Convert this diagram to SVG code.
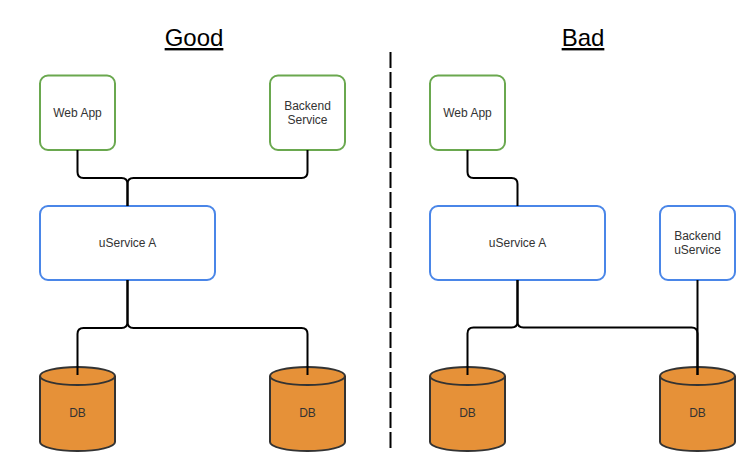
<svg xmlns="http://www.w3.org/2000/svg" width="755" height="473" viewBox="0 0 755 473">
<style>
.title{font-family:"Liberation Sans",Arial,sans-serif;font-size:24px;fill:#000;text-anchor:middle;text-decoration:underline}
.lbl{font-family:"Liberation Sans",Arial,sans-serif;font-size:12px;fill:#333;text-anchor:middle}
.green{fill:#fff;stroke:#6aa84f;stroke-width:2}
.blue{fill:#fff;stroke:#4a86e8;stroke-width:2}
.db{fill:#e69138;stroke:#333;stroke-width:2}
.edge{fill:none;stroke:#000;stroke-width:2}
</style>
<defs>
<g id="cyl">
<path class="db" d="M0,9 A37.5,9 0 0 1 75,9 V75 A37.5,9 0 0 1 0,75 Z"/>
<path class="db" fill="none" d="M0,9 A37.5,9 0 0 0 75,9"/>
</g>
</defs>
<rect width="755" height="473" fill="#fff"/>
<text class="title" x="194" y="46">Good</text>
<text class="title" x="583" y="46">Bad</text>
<line x1="390.5" y1="52" x2="390.5" y2="448" stroke="#000" stroke-width="2" stroke-dasharray="16 4"/>

<g id="good-webapp"><rect class="green" x="40" y="75.5" width="75" height="74.5" rx="8"/><text class="lbl" x="77.5" y="117">Web App</text></g>
<g id="good-backend"><rect class="green" x="270" y="75.5" width="75" height="74.5" rx="8"/><text class="lbl" x="307.5" y="110">Backend</text><text class="lbl" x="307.5" y="124">Service</text></g>
<g id="good-uservice"><rect class="blue" x="40" y="206" width="175" height="74" rx="8"/><text class="lbl" x="127.5" y="247">uService A</text></g>
<g id="good-db1"><use href="#cyl" x="40" y="367"/><text class="lbl" x="77.5" y="417">DB</text></g>
<g id="good-db2"><use href="#cyl" x="270" y="367"/><text class="lbl" x="307.5" y="417">DB</text></g>

<g id="bad-webapp"><rect class="green" x="430" y="75.5" width="75" height="74.5" rx="8"/><text class="lbl" x="467.5" y="117">Web App</text></g>
<g id="bad-uservice"><rect class="blue" x="430" y="206" width="175" height="74" rx="8"/><text class="lbl" x="517.5" y="247">uService A</text></g>
<g id="bad-backend"><rect class="blue" x="660" y="206" width="75" height="74" rx="8"/><text class="lbl" x="697.5" y="240">Backend</text><text class="lbl" x="697.5" y="254">uService</text></g>
<g id="bad-db1"><use href="#cyl" x="430" y="367"/><text class="lbl" x="467.5" y="417">DB</text></g>
<g id="bad-db2"><use href="#cyl" x="660" y="367"/><text class="lbl" x="697.5" y="417">DB</text></g>

<g id="connectors">
<path class="edge" d="M77.5,150 V172 Q77.5,178 83.5,178 H121.5 Q127.5,178 127.5,184 V206"/>
<path class="edge" d="M307.5,150 V172 Q307.5,178 301.5,178 H133.5 Q127.5,178 127.5,184 V206"/>
<path class="edge" d="M127.5,280 V322 Q127.5,328 121.5,328 H83.5 Q77.5,328 77.5,334 V375"/>
<path class="edge" d="M127.5,280 V322 Q127.5,328 133.5,328 H301.5 Q307.5,328 307.5,334 V375"/>
<path class="edge" d="M467.5,150 V172 Q467.5,178 473.5,178 H511.5 Q517.5,178 517.5,184 V206"/>
<path class="edge" d="M517.5,280 V321.5 Q517.5,327.5 511.5,327.5 H473.5 Q467.5,327.5 467.5,333.5 V375"/>
<path class="edge" d="M517.5,280 V321.5 Q517.5,327.5 523.5,327.5 H691.5 Q697.5,327.5 697.5,333.5 V375"/>
<path class="edge" d="M697.5,280 V375"/>
</g>
</svg>
